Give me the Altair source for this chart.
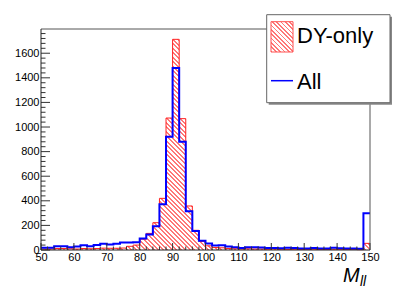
import altair as alt
import pandas as pd

# ---- data ----
BIN_EDGES = list(range(50, 152, 2))          # 50 bins of width 2, edges 50..150
ALL_COUNTS = [19, 19, 30, 30, 22, 28, 38, 30, 40, 50,
              44, 50, 62, 62, 64, 93, 127, 194, 372, 921,
              1480, 880, 316, 155, 75, 53, 36, 38, 28, 22,
              16, 22, 22, 20, 17, 17, 15, 18, 16, 12,
              12, 16, 12, 12, 18, 14, 12, 12, 10, 298]
DY_COUNTS = [8, 8, 12, 12, 10, 8, 12, 10, 12, 15,
             14, 14, 16, 30, 40, 88, 135, 222, 420, 1073,
             1713, 1068, 358, 160, 70, 34, 20, 18, 12, 10,
             8, 10, 8, 8, 6, 8, 6, 5, 6, 4,
             5, 6, 4, 4, 6, 5, 4, 4, 3, 54]
X_LABELS = [50, 60, 70, 80, 90, 100, 110, 120, 130, 140, 150]
Y_LABELS = [0, 200, 400, 600, 800, 1000, 1200, 1400, 1600]
Y_MAX = 1797
LEGEND = ["DY-only", "All"]

rows = []
for i, lo in enumerate(BIN_EDGES):
    j = min(i, len(ALL_COUNTS) - 1)
    rows.append({"x": lo, "all": ALL_COUNTS[j], "dy": DY_COUNTS[j]})
df = pd.DataFrame(rows)

W, H = 329, 221
FONT = "Liberation Sans"
xs = alt.Scale(domain=[50, 150], nice=False, zero=False)
ys = alt.Scale(domain=[0, Y_MAX], nice=False)


def hatch(w, h, n, color="#ff7878", frac=0.38):
    r = h / w
    k = (1 + r) / (1 + r * r)
    clear = "rgba(255,255,255,0)"
    stops = []
    for i in range(n):
        a, b, c = i / n, (i + frac) / n, (i + 1) / n
        stops += [alt.GradientStop(offset=a, color=color),
                  alt.GradientStop(offset=b, color=color),
                  alt.GradientStop(offset=b, color=clear),
                  alt.GradientStop(offset=c, color=clear)]
    return alt.LinearGradient(gradient="linear", stops=stops,
                              x1=0, y1=1, x2=k, y2=1 - k * r)


area_h = max(DY_COUNTS) / Y_MAX * H
xaxis = alt.Axis(values=X_LABELS, format="d", ticks=False, tickSize=0, domain=False, grid=False,
                 labelFont=FONT, labelFontSize=11, labelColor="black", labelOverlap=False,
                 labelPadding=1, labelFlush=False, title=None)
yaxis = alt.Axis(values=Y_LABELS, format="d", ticks=False, tickSize=0, domain=False, grid=False,
                 labelFont=FONT, labelFontSize=11, labelColor="black", labelOverlap=False,
                 labelPadding=2, title=None)


def X(f):
    return alt.X(f, scale=xs, axis=xaxis)


def Y(f):
    return alt.Y(f, scale=ys, axis=yaxis)


base = alt.Chart(df)
dy_area = base.mark_area(interpolate="step-after", fill=hatch(W, area_h, 120)).encode(
    x=X("x:Q"), y=Y("dy:Q"))
dy_line = base.mark_line(interpolate="step-after", color="#ff2020", strokeWidth=1).encode(
    x=X("x:Q"), y=Y("dy:Q"))
all_line = base.mark_line(interpolate="step-after", color="#0000ff", strokeWidth=2).encode(
    x=X("x:Q"), y=Y("all:Q"))

# inward ticks (ROOT style)
y_major = pd.DataFrame({"y": Y_LABELS})
y_minor = pd.DataFrame({"y": [v for v in range(0, Y_MAX, 40) if v % 200 != 0]})
x_major = pd.DataFrame({"x": X_LABELS})
x_minor = pd.DataFrame({"x": [v for v in range(52, 150, 2) if v % 10 != 0]})
TC = "#333333"
ytk1 = alt.Chart(y_major).mark_rule(color=TC).encode(
    y=Y("y:Q"), x=alt.value(0), x2=alt.value(9))
ytk2 = alt.Chart(y_minor).mark_rule(color=TC).encode(
    y=Y("y:Q"), x=alt.value(0), x2=alt.value(4.5))
xtk1 = alt.Chart(x_major).mark_rule(color=TC).encode(
    x=X("x:Q"), y=alt.value(H), y2=alt.value(H - 7))
xtk2 = alt.Chart(x_minor).mark_rule(color=TC).encode(
    x=X("x:Q"), y=alt.value(H), y2=alt.value(H - 3.5))

one = pd.DataFrame({"a": [0]})
FC = "#555555"
frame = alt.layer(
    alt.Chart(one).mark_rule(color=FC).encode(x=alt.value(0), x2=alt.value(W), y=alt.value(0)),
    alt.Chart(one).mark_rule(color=FC).encode(x=alt.value(W), y=alt.value(0), y2=alt.value(H)),
    alt.Chart(one).mark_rule(color="#222222").encode(x=alt.value(0), y=alt.value(0), y2=alt.value(H)),
    alt.Chart(one).mark_rule(color="#222222").encode(x=alt.value(0), x2=alt.value(W), y=alt.value(H)),
)

# legend box (TLegend style)
lx1, lx2, ly1, ly2 = 225.7, 349, -14.3, 73.7
legend = alt.layer(
    alt.Chart(one).mark_rect(fill="#888888").encode(
        x=alt.value(lx1 + 2), x2=alt.value(lx2 + 2), y=alt.value(ly1 + 2), y2=alt.value(ly2 + 2)),
    alt.Chart(one).mark_rect(fill="white", stroke="#666666", strokeWidth=1).encode(
        x=alt.value(lx1), x2=alt.value(lx2), y=alt.value(ly1), y2=alt.value(ly2)),
    alt.Chart(one).mark_rect(fill=hatch(22, 30.3, 12), stroke="#ff5050", strokeWidth=1).encode(
        x=alt.value(230), x2=alt.value(252), y=alt.value(-7.3), y2=alt.value(23)),
    alt.Chart(one).mark_rule(color="#0000ff", strokeWidth=1.5).encode(
        x=alt.value(230), x2=alt.value(252), y=alt.value(51.7)),
    alt.Chart(one).mark_text(text=LEGEND[0], font=FONT, fontSize=22, align="left",
                             baseline="alphabetic", color="black").encode(
        x=alt.value(256), y=alt.value(13.7)),
    alt.Chart(one).mark_text(text=LEGEND[1], font=FONT, fontSize=22, align="left",
                             baseline="alphabetic", color="black").encode(
        x=alt.value(256), y=alt.value(60.3)),
)

xtitle = alt.layer(
    alt.Chart(one).mark_text(text="M", font=FONT, fontSize=20, fontStyle="italic",
                             align="left", baseline="alphabetic", color="black").encode(
        x=alt.value(302), y=alt.value(253)),
    alt.Chart(one).mark_text(text="ll", font=FONT, fontSize=14, fontStyle="italic",
                             align="left", baseline="alphabetic", color="black").encode(
        x=alt.value(319), y=alt.value(257)),
)

chart = alt.layer(
    dy_area, dy_line, all_line, ytk1, ytk2, xtk1, xtk2, frame, legend, xtitle
).properties(
    width=W, height=H,
    padding={"left": 33, "top": 21, "right": 33, "bottom": 40},
    autosize=alt.AutoSizeParams(type="none"),
    background="white",
).configure_view(strokeWidth=0, stroke="transparent")

chart.save("out.html", embed_options={"renderer": "svg", "actions": False})
